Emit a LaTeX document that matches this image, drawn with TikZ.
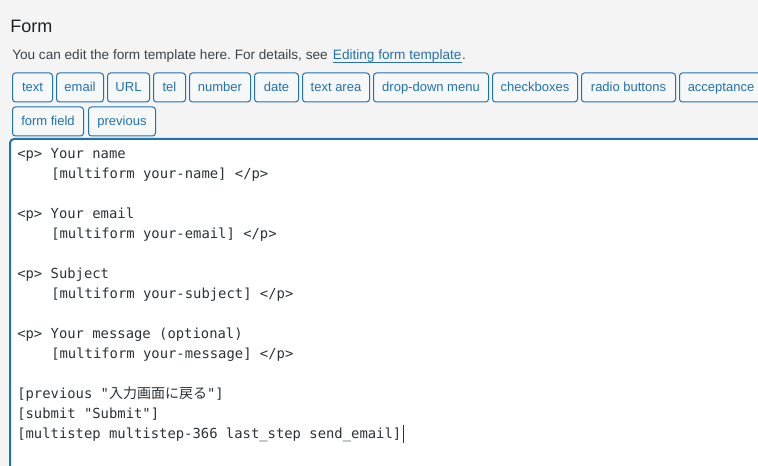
\documentclass[tikz,border=0pt]{standalone}
\usepackage{fontspec}
\usepackage{tikz}
\setmainfont{Liberation Sans}
\setmonofont{DejaVu Sans Mono}
\newfontfamily\cjk{Noto Sans CJK JP}
\usetikzlibrary{positioning}
\definecolor{wpblue}{HTML}{2271B1}
\definecolor{pagebg}{HTML}{F4F4F4}
\definecolor{btnbg}{HTML}{F6F7F7}
\definecolor{codegray}{HTML}{2C3338}
\definecolor{titlegray}{HTML}{1D2327}
\definecolor{descgray}{HTML}{3C434A}
\newlength\pxu
\setlength\pxu{0.75pt}
\frenchspacing
\tikzset{
tagbtn/.style={draw=wpblue, fill=btnbg, text=wpblue, line width=\pxu, rounded corners=3\pxu, minimum height=29\pxu, inner sep=0pt, text height=7.5pt, text depth=1.5pt, anchor=west, font=\fontsize{9.75}{12}\selectfont},
codeline/.style={anchor=base west, inner sep=0pt, text=codegray, font=\fontsize{10.4}{12}\ttfamily},
desctext/.style={anchor=base west, inner sep=0pt, text=descgray, font=\fontsize{10.2}{12}\selectfont},
}

\begin{document}
\begin{tikzpicture}[x=0.75pt,y=-0.75pt]
\clip (0,0) rectangle (758,466);
\fill[pagebg] (0,0) rectangle (758,466);

\node [anchor=base west, inner sep=0pt, text=titlegray, font=\fontsize{13.5}{16}\selectfont] (title) at (10,33) {Form};
\node [desctext] (desc) at (12,60) {You can edit the form template here. For details, see};
\node [desctext, text=wpblue] (link) at ([xshift=3.5]desc.base east) {Editing form template};
\node [desctext] (dot) at (link.base east) {.};
\draw [wpblue, line width=0.75pt] ([yshift=-2]link.base west) -- ([yshift=-2]link.base east);

% tag buttons
\node [tagbtn, minimum width=40\pxu] (btext) at (12,87.5) {text};
\node [tagbtn, minimum width=47\pxu] (bemail) at (56,87.5) {email};
\node [tagbtn, minimum width=42\pxu] (burl) at (107,87.5) {URL};
\node [tagbtn, minimum width=32\pxu] (btel) at (153,87.5) {tel};
\node [tagbtn, minimum width=61\pxu] (bnumber) at (189,87.5) {number};
\node [tagbtn, minimum width=44\pxu] (bdate) at (254,87.5) {date};
\node [tagbtn, minimum width=67\pxu] (btextarea) at (302,87.5) {text area};
\node [tagbtn, minimum width=115\pxu] (bmenu) at (373,87.5) {drop-down menu};
\node [tagbtn, minimum width=85\pxu] (bcheck) at (492,87.5) {checkboxes};
\node [tagbtn, minimum width=94\pxu] (bradio) at (581,87.5) {radio buttons};
\node [tagbtn, minimum width=83\pxu] (baccept) at (679,87.5) {acceptance};
\node [tagbtn, minimum width=71\pxu] (bfield) at (12,121.5) {form field};
\node [tagbtn, minimum width=67\pxu] (bprev) at (88,121.5) {previous};

% text area
\draw [wpblue, line width=1.5pt, fill=white, rounded corners=4\pxu] (10,480) -- (10,139) -- (770,139) -- (770,480);

\node [codeline] (pname) at (17,159) {<p> Your name};
\node [codeline] (fname) at (51,179) {[multiform your-name] </p>};
\node [codeline] (pemail) at (17,219) {<p> Your email};
\node [codeline] (femail) at (51,239) {[multiform your-email] </p>};
\node [codeline] (psubject) at (17,279) {<p> Subject};
\node [codeline] (fsubject) at (51,299) {[multiform your-subject] </p>};
\node [codeline] (pmessage) at (17,339) {<p> Your message (optional)};
\node [codeline] (fmessage) at (51,359) {[multiform your-message] </p>};
\node [codeline] (prevtag) at (17,399) {[previous "{\cjk\fontsize{10.5}{12}\selectfont 入力画面に戻る}"]};
\node [codeline] (submittag) at (17,419) {[submit "Submit"]};
\node [codeline] (steptag) at (17,439) {[multistep multistep-366 last\_step send\_email]};

% caret
\draw [codegray, line width=0.75pt] ([xshift=1.5]steptag.east |- 0,425) -- ([xshift=1.5]steptag.east |- 0,443);

\end{tikzpicture}
\end{document}
